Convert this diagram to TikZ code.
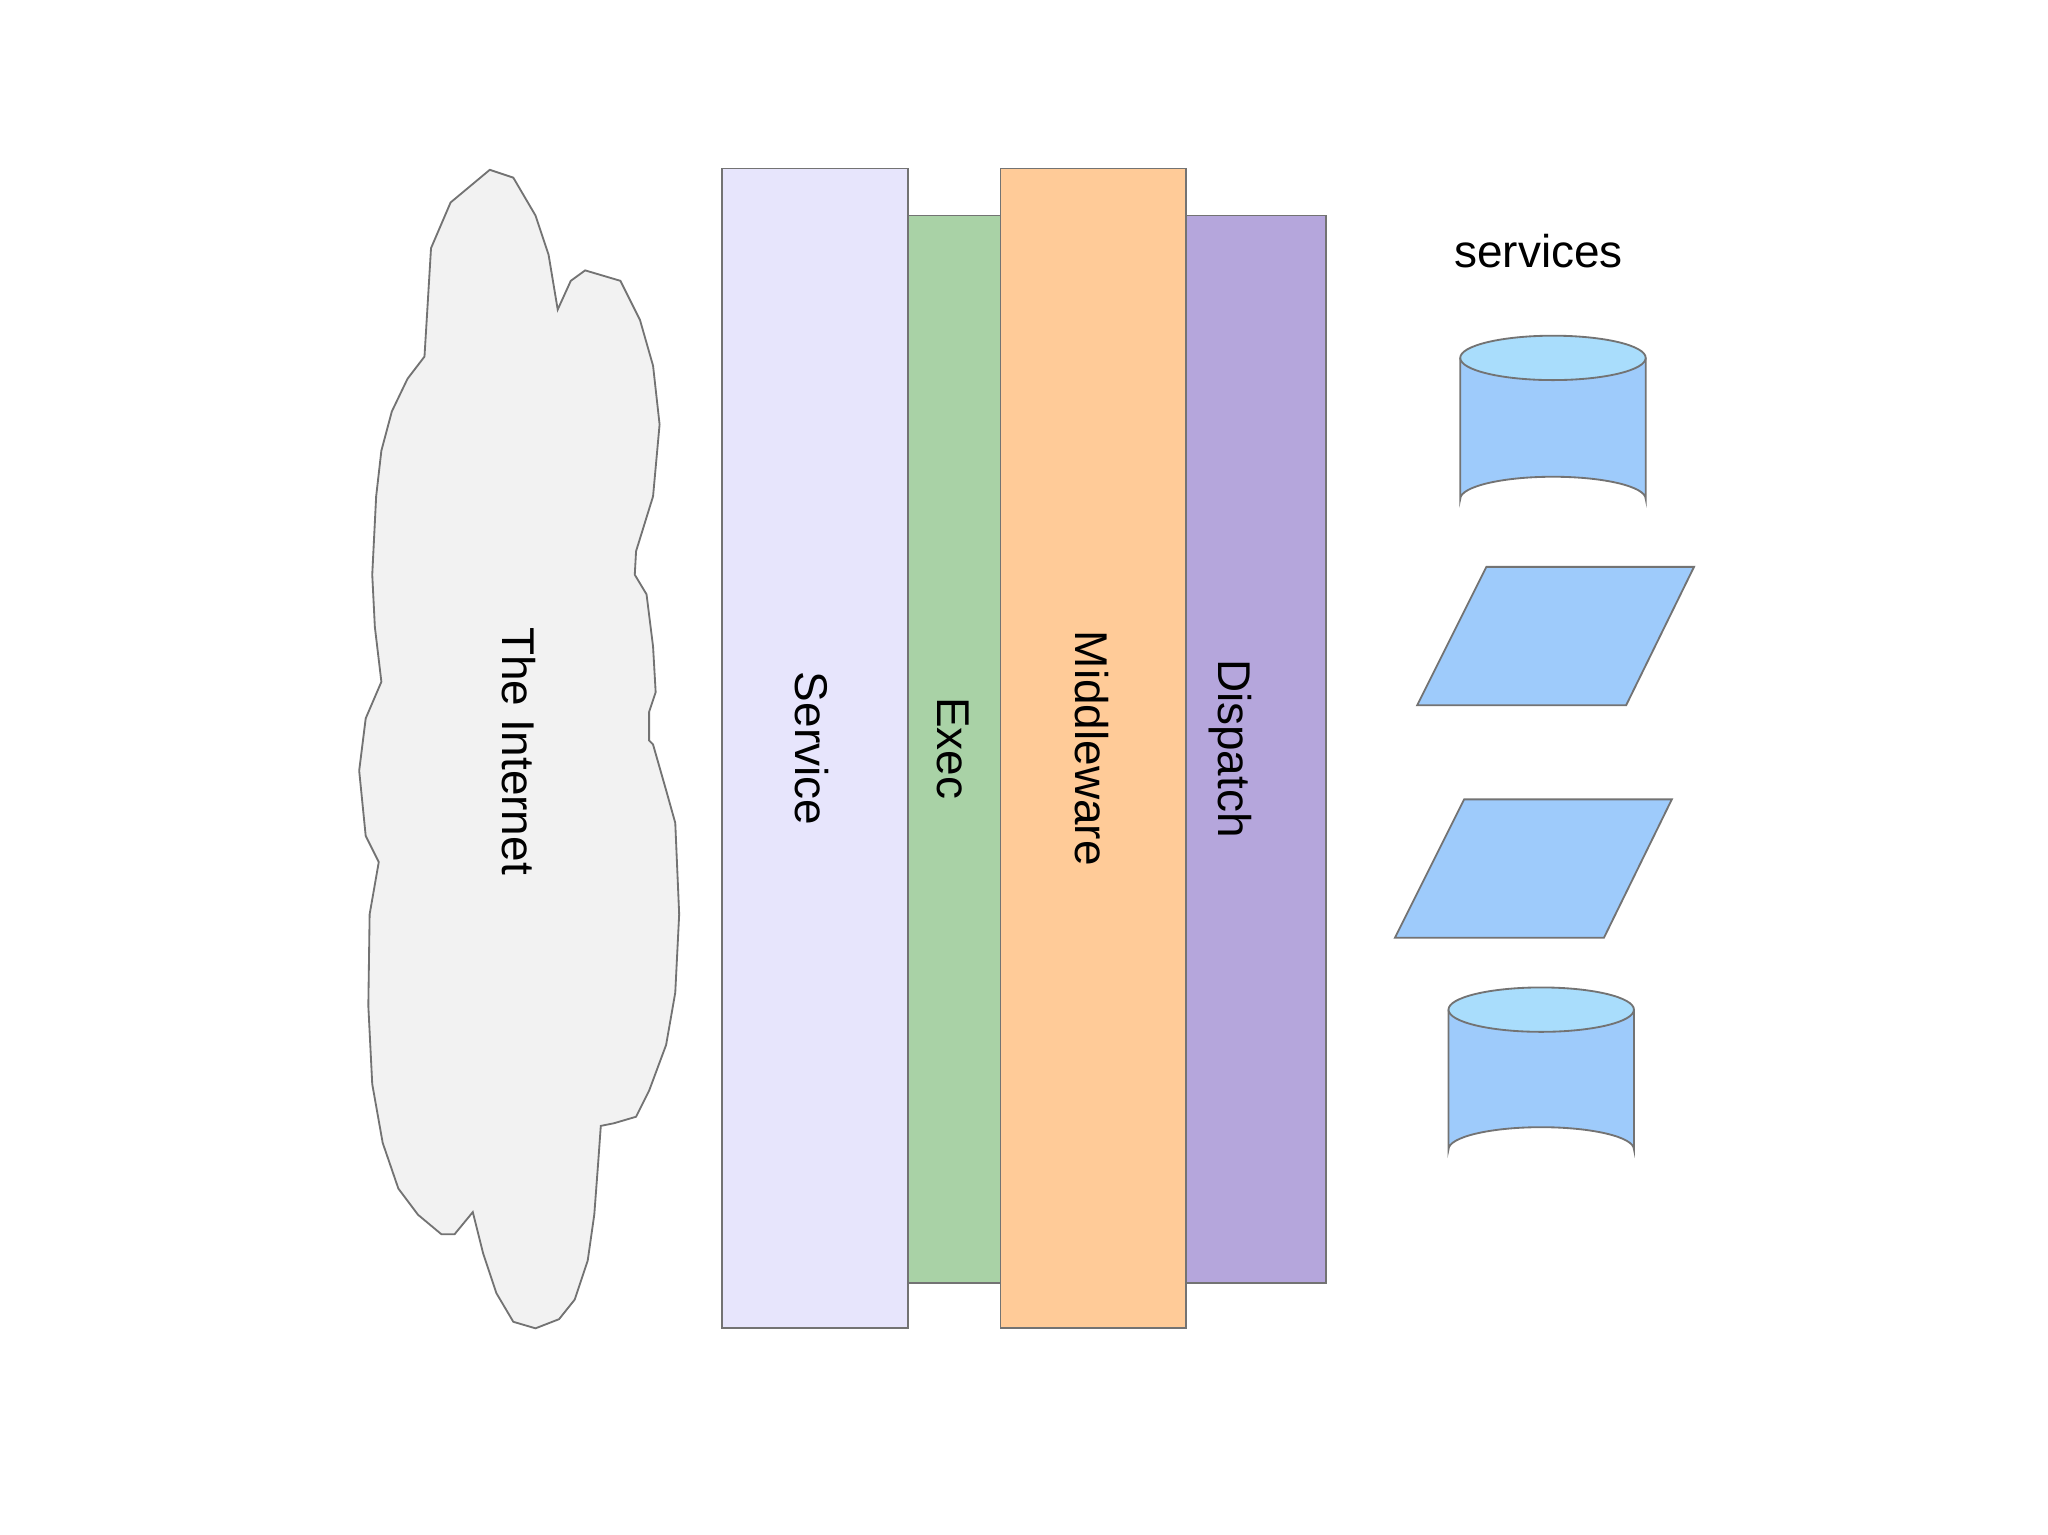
\documentclass[tikz,border=0pt]{standalone}
\usepackage{fontspec}
\setmainfont{Liberation Sans}
\begin{document}
\begin{tikzpicture}[x=0.01cm,y=-0.01cm,line width=0.4pt,
  bar/.style={draw=black!55},
  lab/.style={rotate=-90,font=\fontsize{10}{12}\selectfont},
  shp/.style={draw=black!55,fill=svc}]
\definecolor{svcbar}{HTML}{E7E5FC}
\definecolor{execbar}{HTML}{A9D2A6}
\definecolor{midbar}{HTML}{FFCB98}
\definecolor{dispbar}{HTML}{B5A6DC}
\definecolor{svc}{HTML}{9ECBFB}
\definecolor{svctop}{HTML}{A9DDFC}
\definecolor{cloud}{HTML}{F2F2F2}
\useasboundingbox (0,0) rectangle (1568,1175);
\draw[draw=black!55,fill=cloud] (345,155)--(375,130)--(393,136)--(410,165)--(420,195)--(427,237)--(437,215)--(448,207)--(475,215)--(490,245)--(500,280)--(505,325)--(500,380)--(487,422)--(486,440)--(495,455)--(500,495)--(502,530)--(497,545)--(497,567)--(500,570)--(510,605)--(517,630)--(520,700)--(517,760)--(510,800)--(497,835)--(487,855)--(470,860)--(460,862)--(458,890)--(455,930)--(450,965)--(440,995)--(428,1010)--(410,1017)--(393,1012)--(380,990)--(370,960)--(362,928)--(348,945)--(338,945)--(320,930)--(305,910)--(293,875)--(285,830)--(282,770)--(283,700)--(290,660)--(280,640)--(275,590)--(280,550)--(292,522)--(287,480)--(285,440)--(288,380)--(292,345)--(300,315)--(312,290)--(325,273)--(327,240)--(330,190)--cycle;
\node[lab] (inet) at (397,575) {The Internet};
\draw[bar,fill=svcbar] (553,129) rectangle (695,1017);
\draw[bar,fill=execbar] (695,165) rectangle (766,982);
\draw[bar,fill=midbar] (766,129) rectangle (908,1017);
\draw[bar,fill=dispbar] (908,165) rectangle (1015,982);
\node[lab] (service) at (622,573) {Service};
\node[lab] (exec) at (730,573) {Exec};
\node[lab] (mid) at (836,573) {Middleware};
\node[lab] (disp) at (942,573) {Dispatch};
\node[font=\fontsize{10}{12}\selectfont] (services) at (1178,192) {services};
% cylinder 1
\draw[shp] (1118,274)--(1118,382) arc[start angle=180,end angle=360,x radius=71,y radius=17]--(1260,274);
\draw[draw=black!55,fill=svctop] (1189,274) ellipse[x radius=71,y radius=17];
% parallelograms
\draw[shp] (1138,434)--(1297,434)--(1245,540)--(1085,540)--cycle;
\draw[shp] (1121,612)--(1280,612)--(1228,718)--(1068,718)--cycle;
% cylinder 2
\draw[shp] (1109,773)--(1109,880) arc[start angle=180,end angle=360,x radius=71,y radius=17]--(1251,773);
\draw[draw=black!55,fill=svctop] (1180,773) ellipse[x radius=71,y radius=17];
\end{tikzpicture}
\end{document}
